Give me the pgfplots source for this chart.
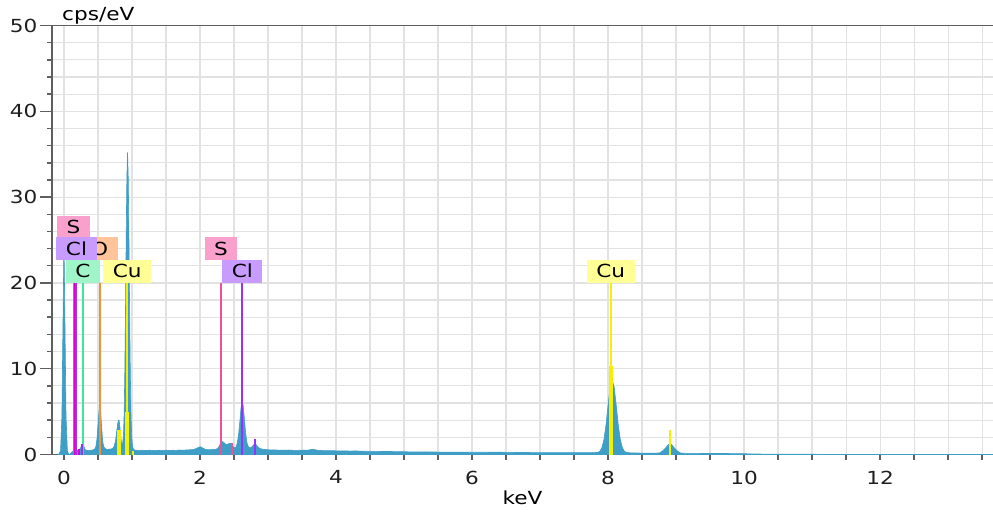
\documentclass[border=0pt]{standalone}
\usepackage{pgfplots}
\pgfplotsset{compat=1.18}
\usepackage{fontspec}
\setmainfont{DejaVu Sans}[FakeStretch=1.2]
\definecolor{spec}{RGB}{62,158,198}
\definecolor{gridc}{RGB}{226,226,226}
\definecolor{axc}{RGB}{95,95,95}
\definecolor{Sline}{RGB}{238,80,155}
\definecolor{Sfill}{RGB}{250,160,205}
\definecolor{mag}{RGB}{225,0,200}
\definecolor{Clline}{RGB}{150,50,255}
\definecolor{Clfill}{RGB}{200,155,255}
\definecolor{Cline}{RGB}{60,232,150}
\definecolor{Cfill}{RGB}{160,245,200}
\definecolor{Oline}{RGB}{240,145,60}
\definecolor{Ofill}{RGB}{255,196,154}
\definecolor{Culine}{RGB}{245,240,0}
\definecolor{Cufill}{RGB}{255,255,150}
\begin{document}
\begin{tikzpicture}[x=1pt,y=1pt]
\useasboundingbox (0,0) rectangle (993,514);
\begin{axis}[
  at={(52pt,59.5pt)}, anchor=south west,
  width=941pt, height=429pt, scale only axis,
  xmin=-0.176, xmax=13.66, ymin=0, ymax=50,
  axis x line=bottom, axis y line=left,
  axis line style={-, draw=axc, line width=1.6pt},
  grid=both,
  major grid style={gridc, line width=1.2pt},
  minor grid style={gridc, line width=1.2pt},
  xtick={0,2,...,14}, minor x tick num=3,
  ytick={0,10,...,50}, minor y tick num=4,
  tick align=outside,
  tick style={axc, line width=1.5pt},
  major tick length=12pt, minor tick length=5pt,
  xtick style={/pgfplots/major tick length=5pt},
  font=\fontsize{18}{21}\selectfont,
  /pgf/number format/assume math mode=true,
  ticklabel style={text=black!88},
  yticklabel style={inner sep=2.5pt},
  xticklabel style={inner sep=4pt},
  xlabel={keV},
  ylabel={cps/eV},
  every axis y label/.style={at={(rel axis cs:0,1)}, anchor=south west, inner sep=0pt, xshift=10pt, yshift=1pt},
  xlabel style={inner sep=2pt},
  clip=false,
]
\addplot[fill=spec, draw=spec, line width=0.6pt] coordinates {
(-0.08,0) (-0.05,0.4) (-0.03,4.5) (-0.015,15) (0,24.5) (0.015,15) (0.03,4.5) (0.05,0.4)
(0.07,0.05) (0.09,0.05) (0.11,0.25) (0.13,0.35) (0.15,0.4) (0.17,0.42) (0.19,0.45)
(0.21,0.5) (0.23,0.6) (0.25,0.85) (0.265,1.15) (0.28,1.2) (0.295,0.9) (0.31,0.6)
(0.33,0.48) (0.36,0.45) (0.39,0.5) (0.42,0.52) (0.45,0.6) (0.47,0.95) (0.485,1.8)
(0.50,3.4) (0.515,5.0) (0.528,5.7) (0.54,4.9) (0.555,3.0) (0.57,1.5) (0.585,0.9)
(0.61,0.65) (0.64,0.6) (0.67,0.62) (0.70,0.65) (0.72,0.75) (0.74,1.0) (0.76,1.7)
(0.775,2.7) (0.79,3.6) (0.80,4.0) (0.81,4.0) (0.82,3.4) (0.83,2.5) (0.84,1.7)
(0.85,1.2) (0.865,1.4) (0.875,2.4) (0.885,4.8) (0.895,9.8) (0.905,17) (0.915,25.5)
(0.925,32.3) (0.935,35.2) (0.945,32.3) (0.955,25.5) (0.965,17) (0.975,9.8)
(0.985,4.8) (0.995,2.3) (1.005,1.1) (1.02,0.65) (1.04,0.52) (1.06,0.5) (1.1,0.47) (1.15,0.5)
(1.2,0.46) (1.25,0.5) (1.3,0.48) (1.35,0.45) (1.4,0.5) (1.45,0.47) (1.5,0.5)
(1.55,0.46) (1.6,0.5) (1.65,0.48) (1.7,0.52) (1.75,0.5) (1.8,0.53) (1.85,0.55)
(1.9,0.58) (1.95,0.7) (1.98,0.85) (2.01,0.9) (2.04,0.75) (2.08,0.6) (2.12,0.55)
(2.16,0.57) (2.2,0.58) (2.24,0.62) (2.27,0.8) (2.29,1.1) (2.31,1.4) (2.33,1.5)
(2.35,1.4) (2.37,1.25) (2.39,1.15) (2.41,1.2) (2.43,1.3) (2.45,1.3) (2.47,1.15)
(2.49,0.9) (2.51,0.75) (2.53,0.9) (2.55,1.4) (2.57,2.5) (2.59,4.2) (2.605,5.6)
(2.62,6.2) (2.635,5.7) (2.65,4.4) (2.67,2.6) (2.69,1.4) (2.71,0.9) (2.73,0.8)
(2.75,0.8) (2.77,0.95) (2.79,1.15) (2.81,1.25) (2.83,1.1) (2.85,0.9) (2.88,0.7)
(2.92,0.62) (2.96,0.58) (3.0,0.55) (3.1,0.53) (3.2,0.5) (3.3,0.52) (3.4,0.48)
(3.5,0.5) (3.6,0.52) (3.66,0.62) (3.72,0.5) (3.8,0.46) (3.9,0.45) (4.0,0.43)
(4.1,0.42) (4.2,0.4) (4.3,0.41) (4.4,0.38) (4.5,0.37) (4.6,0.36) (4.7,0.35)
(4.8,0.35) (4.9,0.33) (5.0,0.32) (5.2,0.3) (5.4,0.29) (5.6,0.28) (5.8,0.27)
(6.0,0.26) (6.2,0.26) (6.4,0.27) (6.6,0.24) (6.8,0.23) (7.0,0.22) (7.2,0.22)
(7.4,0.21) (7.6,0.22) (7.8,0.22)
(7.85,0.24) (7.88,0.38) (7.91,0.8) (7.94,1.75) (7.97,3.46) (8.0,5.75) (8.03,7.85)
(8.06,8.7) (8.09,7.85) (8.12,5.75) (8.15,3.46) (8.18,1.75) (8.21,0.8) (8.24,0.38)
(8.27,0.24) (8.35,0.18) (8.45,0.17) (8.55,0.16) (8.65,0.16)
(8.73,0.17) (8.76,0.2) (8.79,0.35) (8.82,0.55) (8.85,0.8) (8.88,1.1) (8.91,1.25)
(8.94,1.1) (8.97,0.8) (9.0,0.55) (9.03,0.35) (9.06,0.2) (9.09,0.15)
(9.2,0.13) (9.4,0.12) (9.6,0.12) (9.8,0.11) (10.0,0.1) (10.1,0.06) (10.3,0.05)
(10.6,0.05) (10.8,0.03) (11.2,0.02) (12,0.02) (13,0.01) (13.66,0.01)
} \closedcycle;
% element lines (to label level)
\addplot[ycomb, Sline, line width=2pt] coordinates {(0.151,20) (2.307,20)};
\addplot[ycomb, mag, line width=2pt] coordinates {(0.166,20)};
\addplot[ycomb, Clline, line width=2pt] coordinates {(0.181,20) (2.622,20)};
\addplot[ycomb, Cline, line width=2pt] coordinates {(0.277,20)};
\addplot[ycomb, Oline, line width=2pt] coordinates {(0.525,20)};
\addplot[ycomb, Culine, line width=2pt] coordinates {(0.93,20) (8.04,20) (8.905,2.9)};
% relative intensity markers
\addplot[ycomb, Culine, line width=4pt] coordinates {(0.93,5.0) (0.81,2.8) (8.04,10.3)};
\addplot[ycomb, Culine, line width=2pt] coordinates {(1.02,0.4)};
\addplot[ycomb, mag, line width=2pt] coordinates {(0.225,0.6)};
\addplot[ycomb, Clline, line width=2pt] coordinates {(0.26,1.25) (2.815,1.75)};
\addplot[ycomb, Sline, line width=2pt] coordinates {(2.466,1.3)};
\draw[axc, line width=1.6pt] (rel axis cs:0,1) -- (rel axis cs:1,1);
\tikzset{lab/.style={anchor=south, inner xsep=9.5pt, inner ysep=0pt, minimum height=22.5pt,
  text height=13pt, text depth=0pt, text=black, font=\fontsize{18}{21}\selectfont}}
\node[lab, fill=Sfill] at (axis cs:0.14,25.2) {S};
\node[lab, fill=Ofill] at (axis cs:0.525,22.67) {O};
\node[lab, fill=Clfill] at (axis cs:0.184,22.67) {Cl};
\node[lab, fill=Cfill] at (axis cs:0.28,20) {C};
\node[lab, fill=Cufill] at (axis cs:0.93,20) {Cu};
\node[lab, fill=Sfill] at (axis cs:2.307,22.67) {S};
\node[lab, fill=Clfill] at (axis cs:2.622,20) {Cl};
\node[lab, fill=Cufill] at (axis cs:8.04,20) {Cu};
\end{axis}
\end{tikzpicture}
\end{document}
